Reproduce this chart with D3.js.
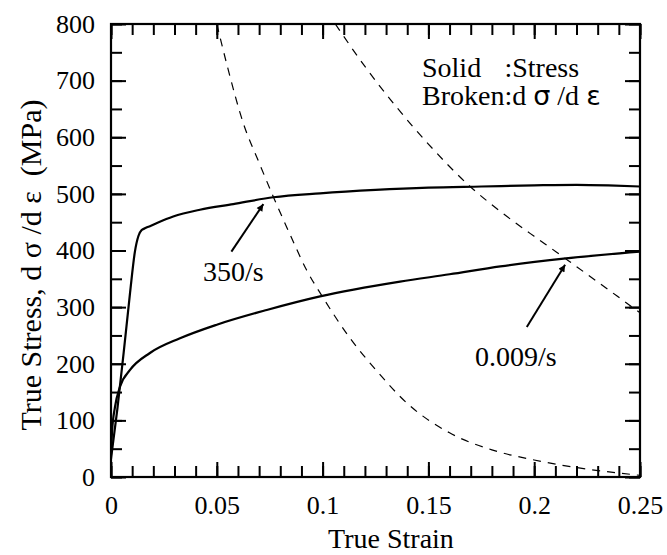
<!DOCTYPE html>
<html>
<head>
<meta charset="utf-8">
<script src="https://cdn.jsdelivr.net/npm/d3@7"></script>
<style>
  body { margin: 0; background: #fff; }
  svg text { font-family: "Liberation Serif", "Times New Roman", serif; fill: #000; }
</style>
</head>
<body>
<svg id="chart" width="667" height="555"></svg>
<script>
// Stress curves (solid)
var strainFast = [0, 0.003, 0.006, 0.009, 0.0113, 0.013, 0.0145, 0.0165, 0.0184, 0.022, 0.0294, 0.042, 0.0578, 0.0767, 0.0988, 0.125, 0.15, 0.175, 0.2, 0.22, 0.235, 0.25];
var stressFast = [32, 120, 220, 325, 398, 426, 436, 440, 443, 449, 460, 472, 482, 494, 501, 507, 511, 513, 515, 516, 515, 513];

var strainSlow = [0, 0.0005, 0.0019, 0.0043, 0.009, 0.0184, 0.0326, 0.05, 0.0736, 0.0988, 0.1366, 0.16, 0.184, 0.215, 0.25];
var stressSlow = [40, 80, 124, 160, 189, 219, 245, 269, 295, 319, 345, 358, 372, 386, 398];

// Hardening rate curves (broken)
var strainFastRate = [0.05, 0.055, 0.0625, 0.07, 0.0767, 0.085, 0.0925, 0.1, 0.113, 0.125, 0.14, 0.16, 0.18, 0.2, 0.225, 0.25];
var rateFast = [800, 725, 625, 555, 495, 425, 365, 318, 245, 190, 130, 78, 48, 30, 14, 3];

var strainSlowRate = [0.106, 0.12, 0.135, 0.15, 0.1706, 0.184, 0.2, 0.2106, 0.218, 0.239, 0.25];
var rateSlow = [800, 725, 653, 588, 510, 469, 425, 397, 377, 320, 290];

// Axis ticks
var xMajor = [0, 0.05, 0.1, 0.15, 0.2, 0.25];
var xMinor = d3.range(0, 0.2501, 0.01);
var yMajor = [0, 100, 200, 300, 400, 500, 600, 700, 800];
var yMinor = d3.range(0, 801, 50);

// Annotations: [label, label strain, label stress, tail strain, tail stress, tip strain, tip stress]
var notes = [
  ["350/s", 0.0435, 346, 0.0569, 398, 0.072, 482],
  ["0.009/s", 0.172, 196, 0.1965, 265, 0.2146, 375]
];

var svg = d3.select("#chart");
var plotL = 111, plotR = 640, plotT = 24, plotB = 477;

var x = d3.scaleLinear().domain([0, 0.25]).range([plotL, plotR]);
var y = d3.scaleLinear().domain([0, 800]).range([plotB, plotT]);

var defs = svg.append("defs");
defs.append("clipPath").attr("id", "plot")
  .append("rect").attr("x", plotL).attr("y", plotT)
  .attr("width", plotR - plotL).attr("height", plotB - plotT);

defs.append("marker")
  .attr("id", "head").attr("viewBox", "0 0 10 10")
  .attr("refX", 10).attr("refY", 5)
  .attr("markerWidth", 14).attr("markerHeight", 7)
  .attr("markerUnits", "userSpaceOnUse")
  .attr("orient", "auto")
  .append("path").attr("d", "M0,0 L10,5 L0,10 Z").attr("fill", "#000");

// Ticks, all pointing inward
function styleAxis(g) {
  g.select(".domain").remove();
  g.selectAll("line").attr("stroke", "#000").attr("stroke-width", 2);
  g.selectAll("text").attr("font-family", "Liberation Serif").attr("font-size", 26);
}

svg.append("g").attr("transform", "translate(0," + plotB + ")")
  .call(d3.axisBottom(x).tickValues(xMinor).tickSize(-11).tickFormat(""))
  .call(styleAxis);
svg.append("g").attr("transform", "translate(0," + plotB + ")")
  .call(d3.axisBottom(x).tickValues(xMajor).tickSize(-15).tickPadding(19).tickFormat(d3.format("~g")))
  .call(styleAxis);
svg.append("g").attr("transform", "translate(0," + plotT + ")")
  .call(d3.axisTop(x).tickValues(xMinor).tickSize(-11).tickFormat(""))
  .call(styleAxis);
svg.append("g").attr("transform", "translate(0," + plotT + ")")
  .call(d3.axisTop(x).tickValues(xMajor).tickSize(-15).tickFormat(""))
  .call(styleAxis);

svg.append("g").attr("transform", "translate(" + plotL + ",0)")
  .call(d3.axisLeft(y).tickValues(yMinor).tickSize(-11).tickFormat(""))
  .call(styleAxis);
svg.append("g").attr("transform", "translate(" + plotL + ",0)")
  .call(d3.axisLeft(y).tickValues(yMajor).tickSize(-15).tickPadding(16))
  .call(styleAxis);
svg.append("g").attr("transform", "translate(" + plotR + ",0)")
  .call(d3.axisRight(y).tickValues(yMinor).tickSize(-11).tickFormat(""))
  .call(styleAxis);
svg.append("g").attr("transform", "translate(" + plotR + ",0)")
  .call(d3.axisRight(y).tickValues(yMajor).tickSize(-15).tickFormat(""))
  .call(styleAxis);

// Frame
svg.append("rect").attr("x", plotL).attr("y", plotT)
  .attr("width", plotR - plotL).attr("height", plotB - plotT)
  .attr("fill", "none").attr("stroke", "#000").attr("stroke-width", 2.2);

// Curves
var line = d3.line().x(function (d) { return x(d[0]); }).y(function (d) { return y(d[1]); })
  .curve(d3.curveMonotoneX);

var plot = svg.append("g").attr("clip-path", "url(#plot)");

[[strainFast, stressFast], [strainSlow, stressSlow]].forEach(function (s) {
  plot.append("path").datum(d3.zip(s[0], s[1]))
    .attr("d", line).attr("fill", "none")
    .attr("stroke", "#000").attr("stroke-width", 2.2);
});

[[strainFastRate, rateFast], [strainSlowRate, rateSlow]].forEach(function (s) {
  plot.append("path").datum(d3.zip(s[0], s[1]))
    .attr("d", line).attr("fill", "none")
    .attr("stroke", "#000").attr("stroke-width", 1.2)
    .attr("stroke-dasharray", "8,7");
});

// Arrows + rate labels
notes.forEach(function (n) {
  svg.append("line")
    .attr("x1", x(n[3])).attr("y1", y(n[4]))
    .attr("x2", x(n[5])).attr("y2", y(n[6]))
    .attr("stroke", "#000").attr("stroke-width", 2)
    .attr("marker-end", "url(#head)");
  svg.append("text").attr("x", x(n[1])).attr("y", y(n[2]))
    .attr("font-size", 28).text(n[0]);
});

// Legend
var lx = 422;
var l2 = svg.append("text").attr("x", lx).attr("y", 105).attr("font-size", 28);
l2.append("tspan").text("Broken");
var brokenW = l2.node().getComputedTextLength();
l2.append("tspan").text(":d ");
l2.append("tspan").attr("font-family", "DejaVu Sans").attr("font-size", 27).text("σ");
l2.append("tspan").text(" /d ");
l2.append("tspan").attr("font-family", "DejaVu Sans").attr("font-size", 27).text("ε");

svg.append("text").attr("x", lx).attr("y", 77).attr("font-size", 28).text("Solid");
svg.append("text").attr("x", lx + brokenW).attr("y", 77).attr("font-size", 28).text(":Stress");

// Axis titles
svg.append("text").attr("x", 391).attr("y", 548)
  .attr("text-anchor", "middle").attr("font-size", 28).text("True Strain");

svg.append("text")
  .attr("transform", "translate(41,265) rotate(-90)")
  .attr("text-anchor", "middle").attr("font-size", 30)
  .attr("xml:space", "preserve")
  .text("True Stress, d σ /d ε  (MPa)");
</script>
</body>
</html>
